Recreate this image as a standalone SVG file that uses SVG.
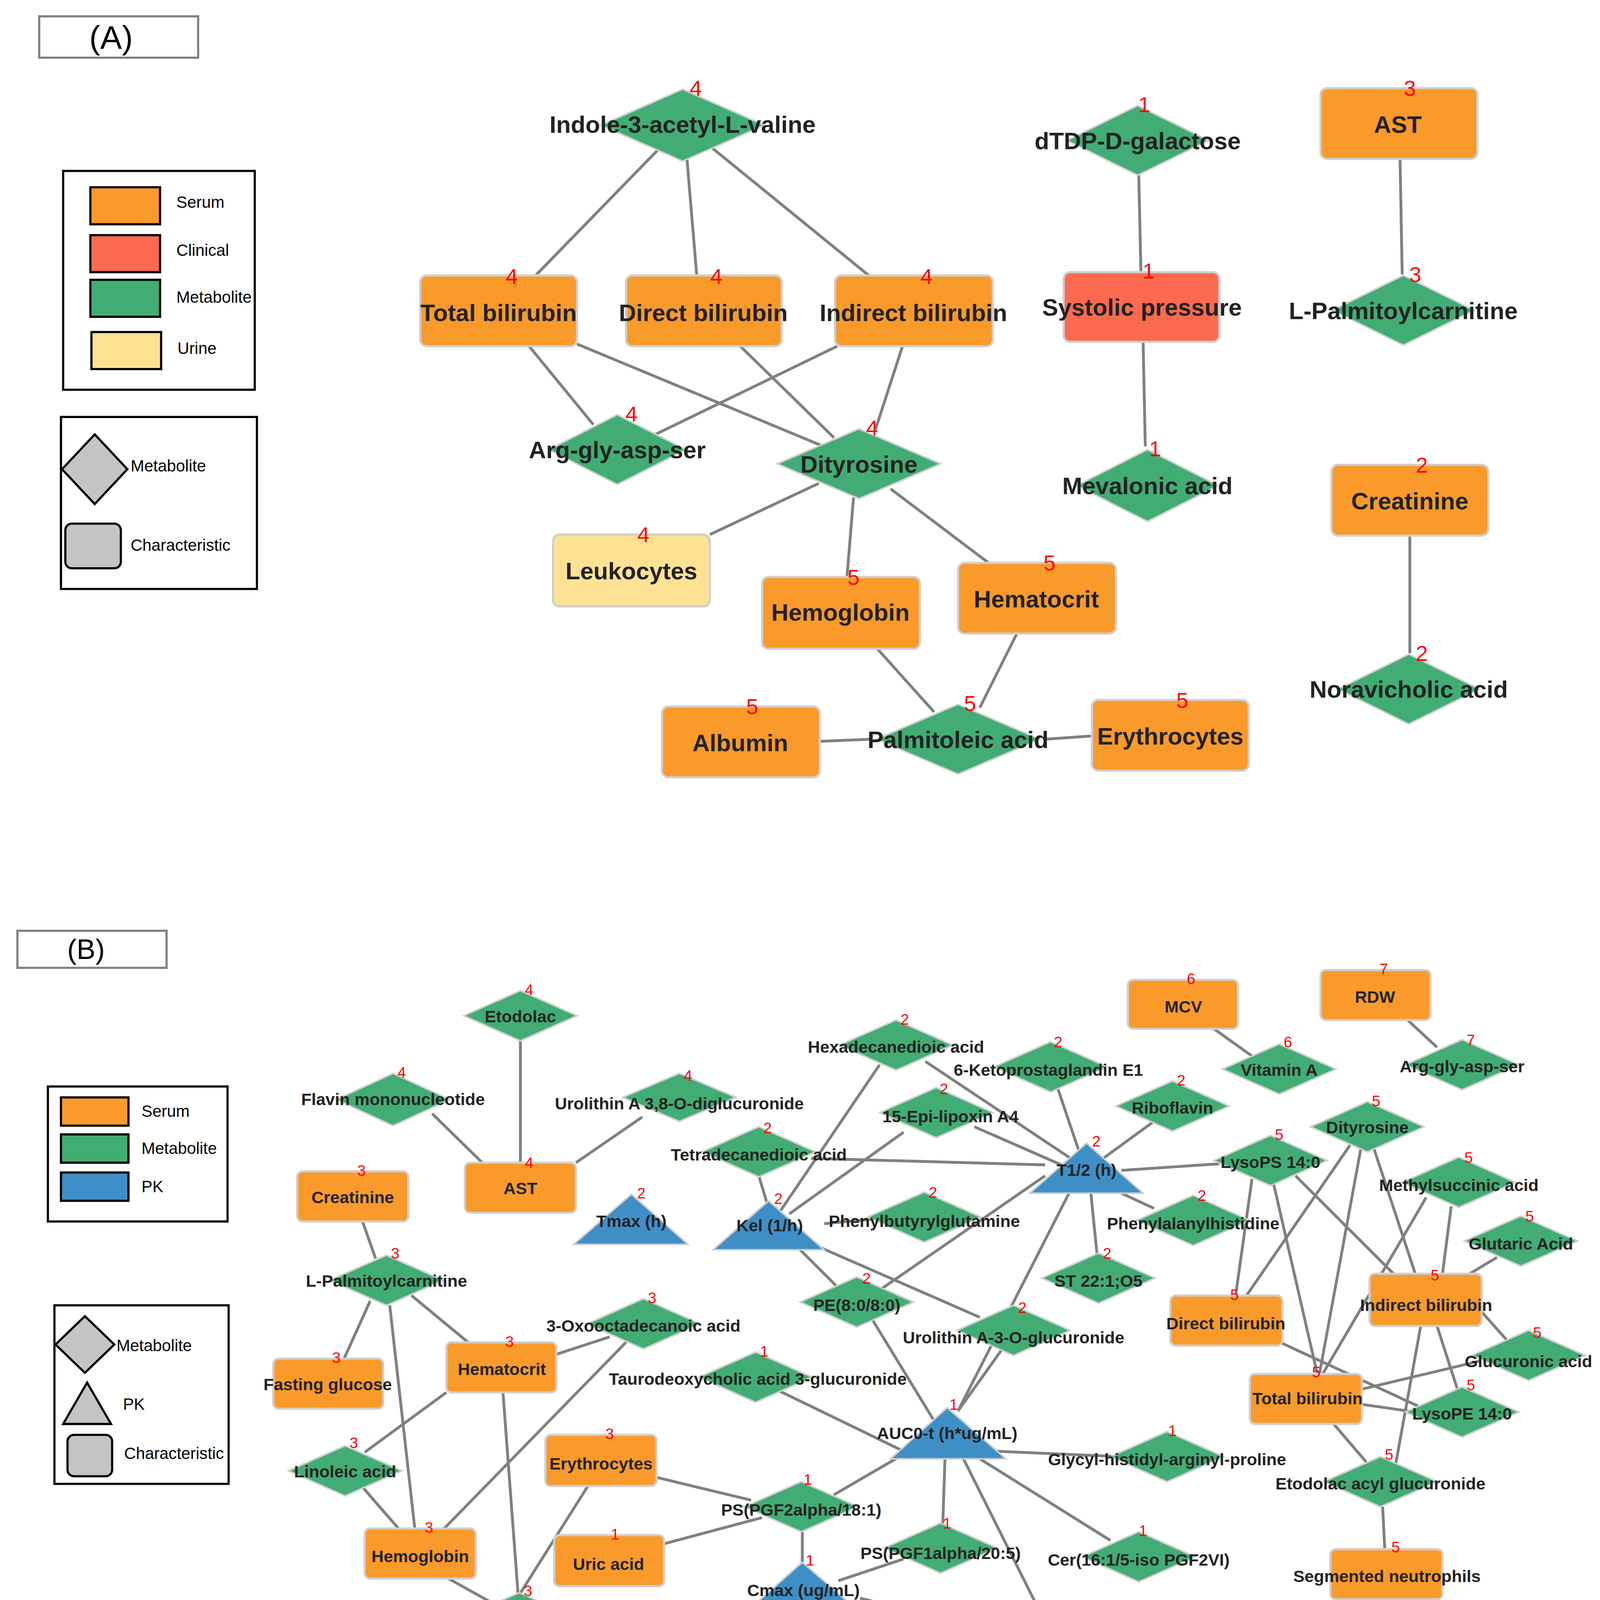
<svg xmlns="http://www.w3.org/2000/svg" width="4119" height="4370" viewBox="0 0 4119 4370">
<style>
.e{stroke:#808080;stroke-width:2.6;fill:none}
.s{fill:#F99A2A;stroke:#CFCFCF;stroke-width:2}
.c{fill:#FB6A4E;stroke:#CFCFCF;stroke-width:2}
.m{fill:#41AD74;stroke:#CFCFCF;stroke-width:1.5}
.u{fill:#FDE294;stroke:#CFCFCF;stroke-width:2}
.p{fill:#3F8FC7;stroke:#CFCFCF;stroke-width:1.5}
.ls{stroke:#000;stroke-width:2}
.box{fill:#fff;stroke:#000;stroke-width:2}
.tb{fill:#fff;stroke:#808080;stroke-width:2}
.ta{font-family:"Liberation Sans",Arial,sans-serif;font-weight:bold;font-size:22px;fill:#222;text-anchor:middle}
.tB{font-family:"Liberation Sans",Arial,sans-serif;font-weight:bold;font-size:15.5px;fill:#222;text-anchor:middle}
.na{font-family:"Liberation Sans",Arial,sans-serif;font-size:20px;fill:#FF0000;text-anchor:middle}
.nb{font-family:"Liberation Sans",Arial,sans-serif;font-size:14px;fill:#FF0000;text-anchor:middle}
.lg{font-family:"Liberation Sans",Arial,sans-serif;font-size:15px;fill:#000}
.gs{fill:#C4C4C4;stroke:#000;stroke-width:2}
</style>
<rect width="4119" height="4370" fill="#fff"/>
<g transform="scale(2.787)">
<!-- Panel A header & legends -->
<g id="labelA"><rect class="tb" x="36" y="15" width="146" height="38"/><text x="102" y="45" font-family="Liberation Sans,Arial,sans-serif" font-size="30" text-anchor="middle">(A)</text></g>
<g id="legendA1"><rect class="box" x="58" y="157" width="176" height="201"/>
<rect class="s ls" x="83" y="172" width="64" height="34" style="stroke:#000"/><text class="lg" x="162" y="191">Serum</text>
<rect class="c" x="83" y="216" width="64" height="34" style="stroke:#000"/><text class="lg" x="162" y="235">Clinical</text>
<rect class="m" x="83" y="257" width="64" height="34" style="stroke:#000;stroke-width:2"/><text class="lg" x="162" y="278">Metabolite</text>
<rect class="u" x="84" y="305" width="64" height="34" style="stroke:#000"/><text class="lg" x="163" y="325">Urine</text></g>
<g id="legendA2"><rect class="box" x="56" y="383" width="180" height="158"/>
<polygon class="gs" points="87,399 117,431 87,463 57,431"/><text class="lg" x="120" y="433">Metabolite</text>
<rect class="gs" x="60" y="481" width="51" height="41" rx="6"/><text class="lg" x="120" y="506">Characteristic</text></g>
<!-- Panel A edges -->
<g id="edgesA">
<line class="e" x1="605" y1="137" x2="492" y2="253"/>
<line class="e" x1="631" y1="146" x2="640" y2="253"/>
<line class="e" x1="653" y1="135" x2="798" y2="253"/>
<line class="e" x1="1046" y1="160" x2="1048" y2="250"/>
<line class="e" x1="1050" y1="314" x2="1052" y2="410"/>
<line class="e" x1="1286" y1="146" x2="1288" y2="252"/>
<line class="e" x1="1295" y1="492" x2="1295" y2="600"/>
<line class="e" x1="486" y1="318" x2="545" y2="390"/>
<line class="e" x1="530" y1="316" x2="766" y2="414"/>
<line class="e" x1="680" y1="318" x2="766" y2="402"/>
<line class="e" x1="769" y1="318" x2="600" y2="400"/>
<line class="e" x1="829" y1="318" x2="804" y2="395"/>
<line class="e" x1="752" y1="444" x2="652" y2="491"/>
<line class="e" x1="784" y1="457" x2="778" y2="530"/>
<line class="e" x1="818" y1="449" x2="908" y2="517"/>
<line class="e" x1="806" y1="596" x2="858" y2="654"/>
<line class="e" x1="934" y1="582" x2="900" y2="650"/>
<line class="e" x1="753" y1="681" x2="800" y2="679"/>
<line class="e" x1="960" y1="679" x2="1003" y2="676"/>
</g>
<!-- Panel A nodes -->
<g id="A_indole"><polygon class="m" points="627,82 702,115 627,148 552,115"/><text class="ta" x="627" y="122">Indole-3-acetyl-L-valine</text><text class="na" x="639" y="88">4</text></g>
<g id="A_dtdp"><polygon class="m" points="1045,97 1110,129 1045,161 980,129"/><text class="ta" x="1045" y="137">dTDP-D-galactose</text><text class="na" x="1051" y="103">1</text></g>
<g id="A_ast"><rect class="s" x="1213" y="81" width="144" height="65" rx="6"/><text class="ta" x="1284" y="122">AST</text><text class="na" x="1295" y="88">3</text></g>
<g id="A_totbil"><rect class="s" x="386" y="253" width="144" height="65" rx="6"/><text class="ta" x="458" y="295">Total bilirubin</text><text class="na" x="470" y="261">4</text></g>
<g id="A_dirbil"><rect class="s" x="575" y="253" width="143" height="65" rx="6"/><text class="ta" x="646" y="295">Direct bilirubin</text><text class="na" x="658" y="261">4</text></g>
<g id="A_indbil"><rect class="s" x="767" y="253" width="145" height="65" rx="6"/><text class="ta" x="839" y="295">Indirect bilirubin</text><text class="na" x="851" y="261">4</text></g>
<g id="A_sys"><rect class="c" x="977" y="250" width="143" height="64" rx="6"/><text class="ta" x="1049" y="290">Systolic pressure</text><text class="na" x="1055" y="256">1</text></g>
<g id="A_lpalm"><polygon class="m" points="1289,253 1354,285 1289,317 1224,285"/><text class="ta" x="1289" y="293">L-Palmitoylcarnitine</text><text class="na" x="1300" y="259">3</text></g>
<g id="A_arg"><polygon class="m" points="567,381 630,413 567,445 504,413"/><text class="ta" x="567" y="421">Arg-gly-asp-ser</text><text class="na" x="580" y="387">4</text></g>
<g id="A_dity"><polygon class="m" points="789,394 864,426 789,458 714,426"/><text class="ta" x="789" y="434">Dityrosine</text><text class="na" x="801" y="400">4</text></g>
<g id="A_meva"><polygon class="m" points="1054,413 1119,446 1054,479 989,446"/><text class="ta" x="1054" y="454">Mevalonic acid</text><text class="na" x="1061" y="419">1</text></g>
<g id="A_creat"><rect class="s" x="1223" y="427" width="144" height="65" rx="6"/><text class="ta" x="1295" y="468">Creatinine</text><text class="na" x="1306" y="434">2</text></g>
<g id="A_leuk"><rect class="u" x="508" y="491" width="144" height="66" rx="6"/><text class="ta" x="580" y="532">Leukocytes</text><text class="na" x="591" y="498">4</text></g>
<g id="A_hemo"><rect class="s" x="700" y="530" width="145" height="66" rx="6"/><text class="ta" x="772" y="570">Hemoglobin</text><text class="na" x="784" y="537">5</text></g>
<g id="A_hema"><rect class="s" x="880" y="517" width="145" height="65" rx="6"/><text class="ta" x="952" y="558">Hematocrit</text><text class="na" x="964" y="524">5</text></g>
<g id="A_nora"><polygon class="m" points="1294,601 1359,633 1294,665 1229,633"/><text class="ta" x="1294" y="641">Noravicholic acid</text><text class="na" x="1306" y="607">2</text></g>
<g id="A_alb"><rect class="s" x="608" y="649" width="145" height="65" rx="6"/><text class="ta" x="680" y="690">Albumin</text><text class="na" x="691" y="656">5</text></g>
<g id="A_palm"><polygon class="m" points="880,647 955,679 880,711 805,679"/><text class="ta" x="880" y="687">Palmitoleic acid</text><text class="na" x="891" y="653">5</text></g>
<g id="A_ery"><rect class="s" x="1003" y="643" width="144" height="65" rx="6"/><text class="ta" x="1075" y="684">Erythrocytes</text><text class="na" x="1086" y="650">5</text></g>

<!-- Panel B header & legends -->
<g id="labelB"><rect class="tb" x="16" y="855" width="137" height="34"/><text x="79" y="881" font-family="Liberation Sans,Arial,sans-serif" font-size="26" text-anchor="middle">(B)</text></g>
<g id="legendB1"><rect class="box" x="44" y="998" width="165" height="124"/>
<rect class="s" x="56" y="1008" width="62" height="26" style="stroke:#000"/><text class="lg" x="130" y="1026">Serum</text>
<rect class="m" x="56" y="1042" width="62" height="26" style="stroke:#000;stroke-width:2"/><text class="lg" x="130" y="1060">Metabolite</text>
<rect class="p" x="56" y="1077" width="62" height="26" style="stroke:#000;stroke-width:2"/><text class="lg" x="130" y="1095">PK</text></g>
<g id="legendB2"><rect class="box" x="50" y="1199" width="160" height="164"/>
<polygon class="gs" points="78,1209 105,1235 78,1261 51,1235"/><text class="lg" x="107" y="1241">Metabolite</text>
<polygon class="gs" points="80,1270 102,1308 58,1308"/><text class="lg" x="113" y="1295">PK</text>
<rect class="gs" x="62" y="1318" width="41" height="38" rx="6"/><text class="lg" x="114" y="1340">Characteristic</text></g>
<!-- Panel B edges -->
<g id="edgesB">
<line class="e" x1="478" y1="956" x2="478" y2="1068"/>
<line class="e" x1="397" y1="1023" x2="443" y2="1068"/>
<line class="e" x1="590" y1="1026" x2="529" y2="1068"/>
<line class="e" x1="333" y1="1122" x2="345" y2="1156"/>
<line class="e" x1="340" y1="1195" x2="316" y2="1248"/>
<line class="e" x1="378" y1="1190" x2="430" y2="1233"/>
<line class="e" x1="358" y1="1199" x2="381" y2="1404"/>
<line class="e" x1="410" y1="1279" x2="335" y2="1334"/>
<line class="e" x1="333" y1="1366" x2="366" y2="1404"/>
<line class="e" x1="511" y1="1244" x2="560" y2="1228"/>
<line class="e" x1="462" y1="1279" x2="476" y2="1466"/>
<line class="e" x1="575" y1="1233" x2="408" y2="1404"/>
<line class="e" x1="412" y1="1450" x2="455" y2="1474"/>
<line class="e" x1="540" y1="1365" x2="470" y2="1476"/>
<line class="e" x1="603" y1="1357" x2="690" y2="1378"/>
<line class="e" x1="610" y1="1418" x2="700" y2="1394"/>
<line class="e" x1="766" y1="1373" x2="840" y2="1330"/>
<line class="e" x1="737" y1="1407" x2="737" y2="1435"/>
<line class="e" x1="770" y1="1452" x2="830" y2="1432"/>
<line class="e" x1="790" y1="1468" x2="920" y2="1500"/>
<line class="e" x1="697" y1="1483" x2="625" y2="1522"/>
<line class="e" x1="762" y1="1481" x2="800" y2="1515"/>
<line class="e" x1="700" y1="1270" x2="830" y2="1333"/>
<line class="e" x1="858" y1="1305" x2="800" y2="1210"/>
<line class="e" x1="880" y1="1296" x2="920" y2="1240"/>
<line class="e" x1="915" y1="1333" x2="1030" y2="1338"/>
<line class="e" x1="900" y1="1340" x2="1020" y2="1415"/>
<line class="e" x1="868" y1="1340" x2="866" y2="1400"/>
<line class="e" x1="885" y1="1340" x2="960" y2="1490"/>
<line class="e" x1="985" y1="1090" x2="880" y2="1296"/>
<line class="e" x1="1002" y1="1096" x2="1008" y2="1155"/>
<line class="e" x1="850" y1="975" x2="985" y2="1065"/>
<line class="e" x1="970" y1="995" x2="992" y2="1060"/>
<line class="e" x1="895" y1="1035" x2="975" y2="1070"/>
<line class="e" x1="1060" y1="1030" x2="1012" y2="1065"/>
<line class="e" x1="745" y1="1064" x2="960" y2="1070"/>
<line class="e" x1="1030" y1="1075" x2="1120" y2="1069"/>
<line class="e" x1="1030" y1="1096" x2="1060" y2="1110"/>
<line class="e" x1="808" y1="1185" x2="960" y2="1080"/>
<line class="e" x1="715" y1="1115" x2="808" y2="978"/>
<line class="e" x1="725" y1="1115" x2="830" y2="1040"/>
<line class="e" x1="706" y1="1110" x2="697" y2="1080"/>
<line class="e" x1="757" y1="1124" x2="800" y2="1120"/>
<line class="e" x1="735" y1="1148" x2="770" y2="1183"/>
<line class="e" x1="740" y1="1140" x2="900" y2="1210"/>
<line class="e" x1="1150" y1="1083" x2="1135" y2="1190"/>
<line class="e" x1="1170" y1="1088" x2="1210" y2="1262"/>
<line class="e" x1="1190" y1="1080" x2="1280" y2="1170"/>
<line class="e" x1="1240" y1="1052" x2="1145" y2="1190"/>
<line class="e" x1="1250" y1="1055" x2="1212" y2="1262"/>
<line class="e" x1="1262" y1="1055" x2="1300" y2="1170"/>
<line class="e" x1="1310" y1="1100" x2="1215" y2="1262"/>
<line class="e" x1="1333" y1="1108" x2="1325" y2="1170"/>
<line class="e" x1="1375" y1="1155" x2="1350" y2="1170"/>
<line class="e" x1="1305" y1="1218" x2="1282" y2="1345"/>
<line class="e" x1="1320" y1="1218" x2="1340" y2="1280"/>
<line class="e" x1="1361" y1="1205" x2="1385" y2="1232"/>
<line class="e" x1="1360" y1="1250" x2="1251" y2="1276"/>
<line class="e" x1="1178" y1="1234" x2="1310" y2="1295"/>
<line class="e" x1="1251" y1="1290" x2="1300" y2="1297"/>
<line class="e" x1="1225" y1="1308" x2="1255" y2="1343"/>
<line class="e" x1="1270" y1="1384" x2="1272" y2="1423"/>
<line class="e" x1="1228" y1="1469" x2="1160" y2="1506"/>
<line class="e" x1="1115" y1="945" x2="1150" y2="970"/>
<line class="e" x1="1293" y1="937" x2="1320" y2="962"/>
</g>
<!-- Panel B nodes -->
<g id="B_etodolac"><polygon class="m" points="478,910 530,933 478,956 426,933"/><text class="tB" x="478" y="939">Etodolac</text><text class="nb" x="486" y="914">4</text></g>
<g id="B_flavin"><polygon class="m" points="361,986 413,1010 361,1034 309,1010"/><text class="tB" x="361" y="1015">Flavin mononucleotide</text><text class="nb" x="369" y="990">4</text></g>
<g id="B_urodi"><polygon class="m" points="624,986 676,1008 624,1030 572,1008"/><text class="tB" x="624" y="1019">Urolithin A 3,8-O-diglucuronide</text><text class="nb" x="632" y="993">4</text></g>
<g id="B_ast"><rect class="s" x="427" y="1068" width="102" height="46" rx="5"/><text class="tB" x="478" y="1097">AST</text><text class="nb" x="486" y="1073">4</text></g>
<g id="B_creat"><rect class="s" x="273" y="1076" width="102" height="46" rx="5"/><text class="tB" x="324" y="1105">Creatinine</text><text class="nb" x="332" y="1080">3</text></g>
<g id="B_tetra"><polygon class="m" points="697,1035 749,1058 697,1081 645,1058"/><text class="tB" x="697" y="1066">Tetradecanedioic acid</text><text class="nb" x="705" y="1041">2</text></g>
<g id="B_tmax"><polygon class="p" points="580,1097 632,1143 527,1143"/><text class="tB" x="580" y="1127">Tmax (h)</text><text class="nb" x="589" y="1101">2</text></g>
<g id="B_kel"><polygon class="p" points="706,1103 757,1148 655,1148"/><text class="tB" x="707" y="1131">Kel (1/h)</text><text class="nb" x="715" y="1106">2</text></g>
<g id="B_hexa"><polygon class="m" points="823,937 875,960 823,983 771,960"/><text class="tB" x="823" y="967">Hexadecanedioic acid</text><text class="nb" x="831" y="941">2</text></g>
<g id="B_keto"><polygon class="m" points="965,957 1017,980 965,1003 913,980"/><text class="tB" x="963" y="988">6-Ketoprostaglandin E1</text><text class="nb" x="972" y="962">2</text></g>
<g id="B_epi"><polygon class="m" points="860,999 912,1022 860,1045 808,1022"/><text class="tB" x="873" y="1031">15-Epi-lipoxin A4</text><text class="nb" x="867" y="1005">2</text></g>
<g id="B_ribo"><polygon class="m" points="1077,993 1129,1016 1077,1039 1025,1016"/><text class="tB" x="1077" y="1023">Riboflavin</text><text class="nb" x="1085" y="997">2</text></g>
<g id="B_t12"><polygon class="p" points="998,1050 1050,1096 946,1096"/><text class="tB" x="998" y="1080">T1/2 (h)</text><text class="nb" x="1007" y="1053">2</text></g>
<g id="B_mcv"><rect class="s" x="1036" y="900" width="101" height="45" rx="5"/><text class="tB" x="1087" y="930">MCV</text><text class="nb" x="1094" y="904">6</text></g>
<g id="B_vita"><polygon class="m" points="1175,959 1227,982 1175,1005 1123,982"/><text class="tB" x="1175" y="988">Vitamin A</text><text class="nb" x="1183" y="962">6</text></g>
<g id="B_rdw"><rect class="s" x="1213" y="891" width="101" height="46" rx="5"/><text class="tB" x="1263" y="921">RDW</text><text class="nb" x="1271" y="895">7</text></g>
<g id="B_arg"><polygon class="m" points="1343,955 1395,978 1343,1001 1291,978"/><text class="tB" x="1343" y="985">Arg-gly-asp-ser</text><text class="nb" x="1351" y="960">7</text></g>
<g id="B_dity"><polygon class="m" points="1256,1012 1308,1035 1256,1058 1204,1035"/><text class="tB" x="1256" y="1041">Dityrosine</text><text class="nb" x="1264" y="1016">5</text></g>
<g id="B_lysops"><polygon class="m" points="1167,1043 1219,1066 1167,1089 1115,1066"/><text class="tB" x="1167" y="1073">LysoPS 14:0</text><text class="nb" x="1175" y="1047">5</text></g>
<g id="B_methyl"><polygon class="m" points="1340,1063 1392,1086 1340,1109 1288,1086"/><text class="tB" x="1340" y="1094">Methylsuccinic acid</text><text class="nb" x="1349" y="1068">5</text></g>
<g id="B_glut"><polygon class="m" points="1397,1117 1449,1140 1397,1163 1345,1140"/><text class="tB" x="1397" y="1148">Glutaric Acid</text><text class="nb" x="1405" y="1122">5</text></g>
<g id="B_phenbut"><polygon class="m" points="849,1095 901,1118 849,1141 797,1118"/><text class="tB" x="849" y="1127">Phenylbutyrylglutamine</text><text class="nb" x="857" y="1100">2</text></g>
<g id="B_phenal"><polygon class="m" points="1096,1098 1148,1121 1096,1144 1044,1121"/><text class="tB" x="1096" y="1129">Phenylalanylhistidine</text><text class="nb" x="1104" y="1103">2</text></g>
<g id="B_st"><polygon class="m" points="1009,1151 1061,1174 1009,1197 957,1174"/><text class="tB" x="1009" y="1182">ST 22:1;O5</text><text class="nb" x="1017" y="1156">2</text></g>
<g id="B_lpalm"><polygon class="m" points="355,1153 407,1176 355,1199 303,1176"/><text class="tB" x="355" y="1182">L-Palmitoylcarnitine</text><text class="nb" x="363" y="1156">3</text></g>
<g id="B_pe"><polygon class="m" points="787,1173 839,1196 787,1219 735,1196"/><text class="tB" x="787" y="1204">PE(8:0/8:0)</text><text class="nb" x="796" y="1179">2</text></g>
<g id="B_urog"><polygon class="m" points="931,1199 983,1222 931,1245 879,1222"/><text class="tB" x="931" y="1234">Urolithin A-3-O-glucuronide</text><text class="nb" x="939" y="1206">2</text></g>
<g id="B_indbil"><rect class="s" x="1258" y="1170" width="103" height="48" rx="5"/><text class="tB" x="1310" y="1204">Indirect bilirubin</text><text class="nb" x="1318" y="1176">5</text></g>
<g id="B_dirbil"><rect class="s" x="1075" y="1190" width="103" height="46" rx="5"/><text class="tB" x="1126" y="1221">Direct bilirubin</text><text class="nb" x="1134" y="1194">5</text></g>
<g id="B_oxo"><polygon class="m" points="591,1193 643,1216 591,1239 539,1216"/><text class="tB" x="591" y="1223">3-Oxooctadecanoic acid</text><text class="nb" x="599" y="1197">3</text></g>
<g id="B_hema"><rect class="s" x="410" y="1233" width="101" height="46" rx="5"/><text class="tB" x="461" y="1263">Hematocrit</text><text class="nb" x="468" y="1237">3</text></g>
<g id="B_fast"><rect class="s" x="251" y="1248" width="101" height="46" rx="5"/><text class="tB" x="301" y="1277">Fasting glucose</text><text class="nb" x="309" y="1252">3</text></g>
<g id="B_tauro"><polygon class="m" points="694,1242 746,1265 694,1288 642,1265"/><text class="tB" x="696" y="1272">Taurodeoxycholic acid 3-glucuronide</text><text class="nb" x="702" y="1246">1</text></g>
<g id="B_glucu"><polygon class="m" points="1404,1222 1456,1245 1404,1268 1352,1245"/><text class="tB" x="1404" y="1256">Glucuronic acid</text><text class="nb" x="1412" y="1229">5</text></g>
<g id="B_totbil"><rect class="s" x="1148" y="1262" width="103" height="46" rx="5"/><text class="tB" x="1201" y="1290">Total bilirubin</text><text class="nb" x="1209" y="1265">5</text></g>
<g id="B_lysope"><polygon class="m" points="1343,1274 1395,1297 1343,1320 1291,1297"/><text class="tB" x="1343" y="1304">LysoPE 14:0</text><text class="nb" x="1351" y="1277">5</text></g>
<g id="B_auc"><polygon class="p" points="870,1293 924,1340 818,1340"/><text class="tB" x="870" y="1322">AUC0-t (h*ug/mL)</text><text class="nb" x="876" y="1295">1</text></g>
<g id="B_glycyl"><polygon class="m" points="1072,1315 1124,1338 1072,1361 1020,1338"/><text class="tB" x="1072" y="1346">Glycyl-histidyl-arginyl-proline</text><text class="nb" x="1077" y="1319">1</text></g>
<g id="B_lino"><polygon class="m" points="317,1328 369,1351 317,1374 265,1351"/><text class="tB" x="317" y="1357">Linoleic acid</text><text class="nb" x="325" y="1330">3</text></g>
<g id="B_ery"><rect class="s" x="501" y="1318" width="102" height="47" rx="5"/><text class="tB" x="552" y="1350">Erythrocytes</text><text class="nb" x="560" y="1322">3</text></g>
<g id="B_etoacyl"><polygon class="m" points="1268,1338 1320,1361 1268,1384 1216,1361"/><text class="tB" x="1268" y="1368">Etodolac acyl glucuronide</text><text class="nb" x="1276" y="1341">5</text></g>
<g id="B_ps2"><polygon class="m" points="736,1361 788,1384 736,1407 684,1384"/><text class="tB" x="736" y="1392">PS(PGF2alpha/18:1)</text><text class="nb" x="742" y="1364">1</text></g>
<g id="B_hemo"><rect class="s" x="335" y="1404" width="102" height="46" rx="5"/><text class="tB" x="386" y="1435">Hemoglobin</text><text class="nb" x="394" y="1408">3</text></g>
<g id="B_uric"><rect class="s" x="509" y="1410" width="101" height="47" rx="5"/><text class="tB" x="559" y="1442">Uric acid</text><text class="nb" x="565" y="1414">1</text></g>
<g id="B_ps1"><polygon class="m" points="864,1399 916,1422 864,1445 812,1422"/><text class="tB" x="864" y="1432">PS(PGF1alpha/20:5)</text><text class="nb" x="870" y="1404">1</text></g>
<g id="B_cer"><polygon class="m" points="1046,1407 1098,1430 1046,1453 994,1430"/><text class="tB" x="1046" y="1438">Cer(16:1/5-iso PGF2VI)</text><text class="nb" x="1050" y="1411">1</text></g>
<g id="B_seg"><rect class="s" x="1222" y="1423" width="103" height="46" rx="5"/><text class="tB" x="1274" y="1453">Segmented neutrophils</text><text class="nb" x="1282" y="1426">5</text></g>
<g id="B_cmax"><polygon class="p" points="737,1435 790,1481 685,1481"/><text class="tB" x="738" y="1466">Cmax (ug/mL)</text><text class="nb" x="744" y="1438">1</text></g>
<g id="B_palm"><polygon class="m" points="477,1463 529,1486 477,1509 425,1486"/><text class="tB" x="477" y="1494">Palmitoleic acid</text><text class="nb" x="485" y="1466">3</text></g>
<g id="B_dag"><polygon class="m" points="966,1483 1018,1506 966,1529 914,1506"/><text class="tB" x="966" y="1514">DAG 30:6</text><text class="nb" x="972" y="1486">1</text></g>
<g id="B_asc"><polygon class="m" points="1133,1497 1185,1520 1133,1543 1081,1520"/><text class="tB" x="1133" y="1527">Ascorbic acid</text><text class="nb" x="1141" y="1500">5</text></g>
<g id="B_tryp"><polygon class="m" points="603,1510 655,1533 603,1556 551,1533"/><text class="tB" x="603" y="1541">Tryptophol</text><text class="nb" x="609" y="1514">1</text></g>
<g id="B_coenz"><polygon class="m" points="817,1507 869,1530 817,1553 765,1530"/><text class="tB" x="817" y="1537">Coenzyme B</text><text class="nb" x="823" y="1510">1</text></g>
</g>
</svg>
